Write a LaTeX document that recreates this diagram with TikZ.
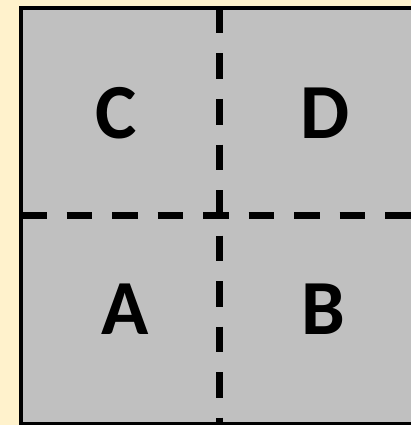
\documentclass[tikz,border=0pt]{standalone}
\usepackage{fontspec}
\setmainfont{Carlito}
\definecolor{cream}{HTML}{FFF2CC}
\definecolor{cellgray}{HTML}{C0C0C0}
\tikzset{
  lbl/.style={font=\fontsize{78}{78}\selectfont\bfseries, inner sep=0pt, anchor=center},
  divider/.style={line width=6.5pt, dash pattern=on 25.5pt off 20pt, line cap=butt}
}
\begin{document}
\begin{tikzpicture}[x=1pt,y=-1pt]
\useasboundingbox (0,0) rectangle (411,425);
\fill[cream] (0,0) rectangle (411,425);
\begin{scope}
\clip (0,0) rectangle (411,425);
\draw[line width=4pt, fill=cellgray] (21,8) rectangle (418,424);
\coordinate (vt) at (219.3,8);
\coordinate (vb) at (219.3,424);
\coordinate (hl) at (21,215.7);
\coordinate (hr) at (418,215.7);
\draw[divider] (vt) -- (vb);
\draw[divider] (hl) -- (hr);
\end{scope}
\node[lbl] (C) at (116,113) {C};
\node[lbl] (D) at (325,113) {D};
\node[lbl] (A) at (125,309) {A};
\node[lbl] (B) at (323,309) {B};
\end{tikzpicture}
\end{document}
